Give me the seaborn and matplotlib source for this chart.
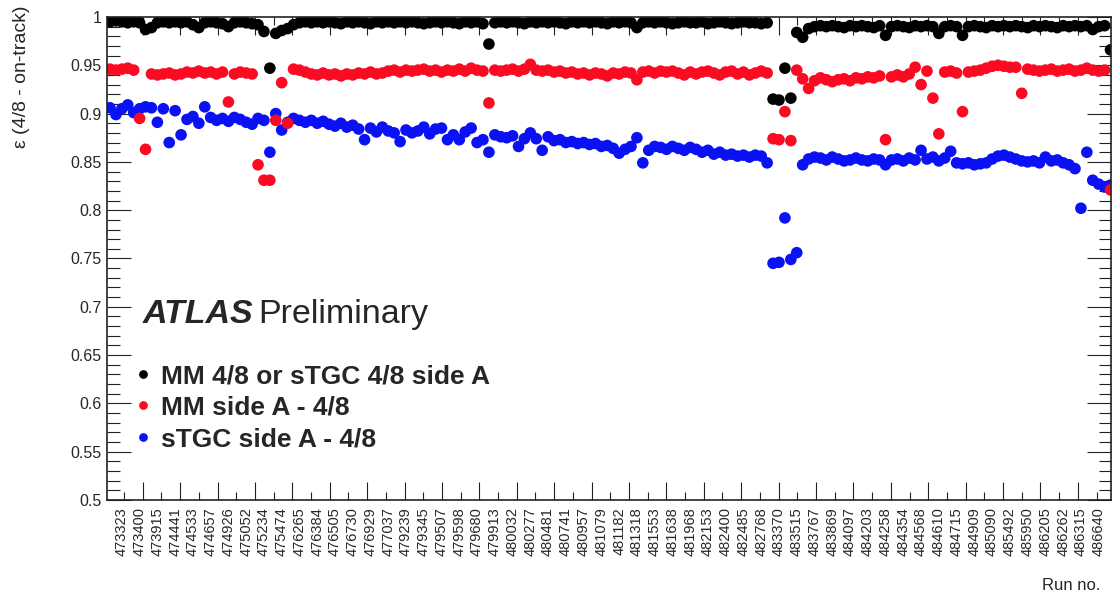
import numpy as np
import pandas as pd
import seaborn as sns
import matplotlib.pyplot as plt
from matplotlib.ticker import MultipleLocator, FixedLocator, FuncFormatter


# run numbers shown on the x axis (every 3rd point)
runs = ['473323', '473400', '473915', '474441', '474533', '474657', '474926', '475052',
        '475234', '475474', '476265', '476384', '476505', '476730', '476929', '477037',
        '479239', '479345', '479507', '479598', '479680', '479913', '480032', '480277',
        '480481', '480741', '480957', '481079', '481182', '481318', '481553', '481638',
        '481968', '482153', '482400', '482485', '482768', '483370', '483515', '483767',
        '483869', '484097', '484203', '484258', '484354', '484568', '484610', '484715',
        '484909', '485090', '485492', '485950', '486205', '486262', '486315', '486640']

series_names = ['MM 4/8 or sTGC 4/8 side A', 'MM side A - 4/8', 'sTGC side A - 4/8']
colors = ['#000000', '#fc0a22', '#0a12f5']

black_eff = [
    .995, .996, .995, .994, .995, .994, .987, .989, .994, .995,
    .994, .995, .994, .995, .992, .989, .994, .995, .994, .993,
    .990, .994, .995, .994, .993, .992, .985, .947, .983, .986,
    .988, .992, .994, .995, .994, .995, .994, .995, .994, .993,
    .995, .994, .995, .994, .993, .995, .994, .995, .994, .995,
    .994, .995, .994, .993, .994, .995, .994, .995, .994, .993,
    .995, .994, .995, .993, .972, .994, .995, .994, .995, .994,
    .993, .995, .994, .995, .994, .995, .994, .993, .995, .994,
    .995, .994, .995, .994, .993, .995, .994, .995, .994, .989,
    .994, .995, .994, .995, .994, .993, .994, .995, .994, .994,
    .995, .993, .994, .995, .994, .993, .994, .995, .994, .994,
    .993, .994, .915, .914, .947, .916, .984, .979, .988, .990,
    .991, .990, .991, .990, .989, .991, .990, .991, .990, .989,
    .991, .981, .990, .991, .990, .989, .991, .990, .991, .990,
    .983, .990, .991, .990, .981, .990, .991, .990, .989, .991,
    .990, .991, .990, .991, .990, .989, .991, .990, .991, .990,
    .989, .991, .990, .991, .990, .991, .987, .990, .991, .966]

red_eff = [
    .946, .945, .946, .947, .945, .895, .863, .941, .940, .941,
    .942, .940, .941, .943, .942, .944, .942, .943, .941, .943,
    .912, .941, .943, .942, .941, .847, .831, .831, .893, .932,
    .890, .946, .945, .943, .941, .940, .942, .940, .941, .939,
    .941, .940, .942, .941, .943, .941, .942, .944, .945, .943,
    .945, .944, .945, .946, .944, .945, .943, .945, .944, .946,
    .944, .947, .945, .944, .911, .945, .944, .945, .946, .944,
    .946, .951, .945, .944, .945, .943, .944, .942, .943, .941,
    .942, .940, .942, .941, .939, .942, .941, .943, .942, .935,
    .943, .944, .942, .944, .943, .944, .942, .940, .943, .941,
    .943, .944, .942, .940, .943, .944, .941, .943, .940, .942,
    .944, .942, .874, .873, .902, .872, .945, .936, .926, .934,
    .937, .935, .933, .935, .936, .934, .937, .936, .938, .937,
    .939, .873, .938, .940, .938, .941, .948, .930, .944, .916,
    .879, .943, .944, .942, .902, .943, .944, .945, .947, .949,
    .950, .949, .948, .948, .921, .946, .945, .944, .945, .946,
    .944, .945, .946, .944, .945, .947, .945, .944, .945, .821]

blue_eff = [
    .906, .899, .905, .909, .901, .905, .907, .906, .891, .905,
    .870, .903, .878, .894, .897, .890, .907, .896, .893, .895,
    .892, .896, .894, .891, .889, .895, .893, .860, .900, .883,
    .891, .895, .893, .891, .893, .890, .892, .889, .887, .890,
    .886, .888, .884, .873, .885, .881, .886, .882, .880, .871,
    .883, .880, .882, .886, .879, .884, .885, .873, .878, .873,
    .881, .885, .870, .873, .860, .878, .876, .875, .877, .866,
    .874, .880, .874, .862, .876, .872, .873, .870, .871, .869,
    .870, .868, .869, .866, .867, .864, .859, .863, .866, .875,
    .849, .862, .866, .865, .863, .866, .864, .862, .865, .863,
    .860, .862, .858, .860, .857, .858, .856, .857, .855, .857,
    .856, .849, .745, .746, .792, .749, .756, .847, .853, .855,
    .854, .852, .855, .853, .851, .852, .854, .852, .851, .853,
    .852, .847, .852, .853, .851, .854, .852, .862, .853, .855,
    .851, .854, .861, .849, .848, .849, .847, .848, .849, .853,
    .856, .857, .855, .853, .851, .850, .851, .849, .855, .851,
    .852, .849, .847, .843, .802, .860, .831, .827, .824, .826]

n_points = len(black_eff)
idx = np.arange(n_points)

# blue first so red and black end up on top
df = pd.concat([
    pd.DataFrame({'idx': idx, 'eff': blue_eff, 'series': series_names[2]}),
    pd.DataFrame({'idx': idx, 'eff': red_eff, 'series': series_names[1]}),
    pd.DataFrame({'idx': idx, 'eff': black_eff, 'series': series_names[0]}),
], ignore_index=True)

sns.set_style('ticks')
plt.rcParams['font.family'] = ['Liberation Sans', 'DejaVu Sans']

fig = plt.figure(figsize=(11.14, 5.98), dpi=100)
ax = fig.add_axes([0.0961, 0.1639, 0.9013, 0.8077])

sns.scatterplot(data=df, x='idx', y='eff', hue='series', hue_order=series_names,
                palette=dict(zip(series_names, colors)), s=70, linewidth=0, ax=ax)

ax.set_xlim(-0.5, 169.1)
ax.set_ylim(0.5, 1.0)
ax.set_xlabel('')
ax.set_ylabel('')

# run labels every 3rd point
label_idx = 2 + 3 * np.arange(len(runs))
ax.set_xticks(label_idx, runs, rotation=90)
ax.tick_params(axis='x', which='both', length=0, pad=5, labelsize=10.5, top=False)

# ROOT-like tick marks, not tied to the labels
step = 3.159
for side in ['bottom', 'top']:
    sec = ax.secondary_xaxis(side)
    sec.set_xticks(np.arange(2.37 + step, 169.1, 2 * step))
    sec.xaxis.set_minor_locator(FixedLocator(np.arange(2.37, 169.1, 2 * step)))
    sec.tick_params(which='both', direction='in', labelbottom=False, labeltop=False,
                    width=0.8, color='#222222')
    sec.tick_params(which='major', length=13)
    sec.tick_params(which='minor', length=6)
    sec.spines[side].set_visible(False)

ax.yaxis.set_major_locator(MultipleLocator(0.05))
ax.yaxis.set_minor_locator(MultipleLocator(0.01))
ax.yaxis.set_major_formatter(FuncFormatter(lambda v, p: '%g' % round(v, 3)))
ax.tick_params(axis='y', which='both', direction='in', right=True, labelsize=11.5,
               width=0.8, color='#222222', pad=4)
ax.tick_params(axis='y', which='major', length=17)
ax.tick_params(axis='y', which='minor', length=9)

for sp in ax.spines.values():
    sp.set_visible(True)
    sp.set_linewidth(1.2)
    sp.set_color('#222222')

fig.text(22 / 1114, 1 - 6 / 598, '\u03b5 (4/8 - on-track)', rotation=90,
         ha='center', va='top', fontsize=14)
fig.text(1100 / 1114, 1 - 585 / 598, 'Run no.', ha='right', va='center', fontsize=12)

ax.text(0.0359, 0.3665, 'ATLAS', transform=ax.transAxes, fontsize=24.5,
        fontweight='bold', fontstyle='italic', va='baseline')
ax.text(0.1504, 0.3665, 'Preliminary', transform=ax.transAxes, fontsize=24.5, va='baseline')

sns.move_legend(ax, 'upper left', bbox_to_anchor=(0.025, 0.281), title=None,
                frameon=False, prop={'weight': 'bold', 'size': 19},
                handlelength=0.8, handletextpad=0.3, labelspacing=0.28,
                borderpad=0, borderaxespad=0, markerscale=0.75)

fig.savefig('out.png', dpi=100)
